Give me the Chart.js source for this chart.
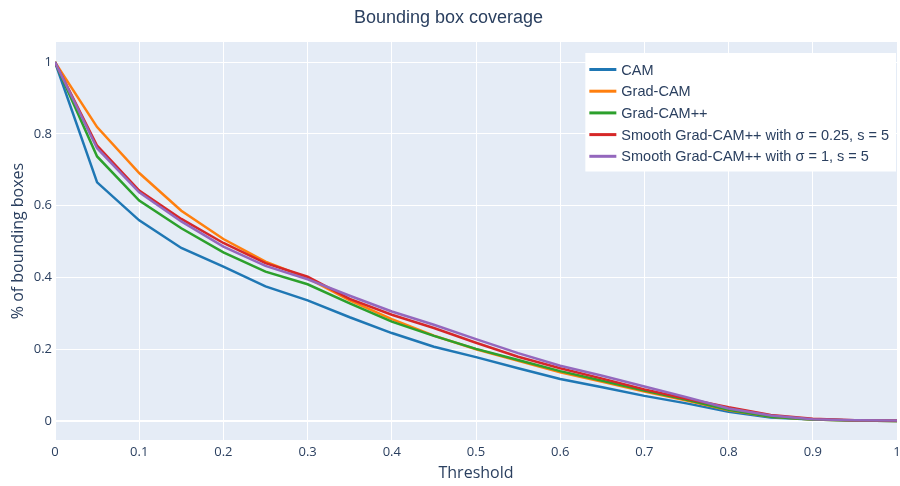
<!DOCTYPE html>
<html>
<head>
<meta charset="utf-8">
<script src="https://cdn.jsdelivr.net/npm/chart.js@4/dist/chart.umd.min.js"></script>
<style>
  html, body { margin: 0; padding: 0; background: #fff; }
  #wrap { width: 900px; height: 486px; }
</style>
</head>
<body>
<div id="wrap"><canvas id="coverageChart"></canvas></div>
<script>
// Thresholds on the x axis
const thresholds = [0, 0.05, 0.1, 0.15, 0.2, 0.25, 0.3, 0.35, 0.4, 0.45, 0.5,
  0.55, 0.6, 0.65, 0.7, 0.75, 0.8, 0.85, 0.9, 0.95, 1];

// Share of bounding boxes covered, one array per method
const cam = [1, 0.665, 0.559, 0.482, 0.430, 0.375, 0.336, 0.289, 0.245, 0.207, 0.178,
  0.147, 0.117, 0.094, 0.070, 0.049, 0.026, 0.010, 0.004, 0.001, 0];
const gradCam = [1, 0.819, 0.691, 0.586, 0.507, 0.444, 0.398, 0.336, 0.284, 0.238, 0.200,
  0.168, 0.136, 0.109, 0.082, 0.057, 0.030, 0.012, 0.004, 0.001, 0];
const gradCamPP = [1, 0.737, 0.614, 0.537, 0.470, 0.416, 0.381, 0.328, 0.277, 0.237, 0.201,
  0.170, 0.139, 0.112, 0.085, 0.059, 0.031, 0.012, 0.004, 0.001, 0];
const smooth025 = [1, 0.767, 0.642, 0.563, 0.496, 0.440, 0.402, 0.340, 0.296, 0.259, 0.218,
  0.179, 0.147, 0.118, 0.088, 0.062, 0.038, 0.017, 0.006, 0.002, 0.001];
const smooth1 = [1, 0.760, 0.637, 0.556, 0.486, 0.432, 0.395, 0.349, 0.305, 0.268, 0.228,
  0.189, 0.154, 0.126, 0.096, 0.066, 0.035, 0.015, 0.005, 0.002, 0.001];

const seriesNames = ['CAM', 'Grad-CAM', 'Grad-CAM++',
  'Smooth Grad-CAM++ with σ = 0.25, s = 5', 'Smooth Grad-CAM++ with σ = 1, s = 5'];
const seriesValues = [cam, gradCam, gradCamPP, smooth025, smooth1];
const seriesColors = ['#1f77b4', '#ff7f0e', '#2ca02c', '#d62728', '#9467bd'];

// Tick labels
const xTicks = [0, 0.1, 0.2, 0.3, 0.4, 0.5, 0.6, 0.7, 0.8, 0.9, 1];
const yTicks = [0, 0.2, 0.4, 0.6, 0.8, 1];

const textColor = '#2a3f5f';
const tickFont = { family: '"Open Sans", sans-serif', size: 13 };

// light blue plot background like plotly
const plotBackground = {
  id: 'plotBackground',
  beforeDraw(chart) {
    const { ctx, chartArea } = chart;
    ctx.save();
    ctx.fillStyle = '#e5ecf6';
    ctx.fillRect(chartArea.left, chartArea.top, chartArea.width, chartArea.height);
    ctx.restore();
  }
};

// legend box in the top right corner of the plot
const legendBox = {
  id: 'legendBox',
  afterDraw(chart) {
    const { ctx, chartArea } = chart;
    const datasets = chart.data.datasets;
    ctx.save();
    ctx.font = '14.5px "Liberation Sans", Arial, sans-serif';
    let textW = 0;
    datasets.forEach(ds => {
      textW = Math.max(textW, ctx.measureText(ds.label).width);
    });
    const rowH = 21.7;
    const boxW = textW + 43;
    const boxH = rowH * datasets.length + 10;
    const x0 = chartArea.right - 1 - boxW;
    const y0 = chartArea.top + 11;
    ctx.fillStyle = '#ffffff';
    ctx.fillRect(x0, y0, boxW, boxH);
    ctx.textBaseline = 'middle';
    datasets.forEach((ds, i) => {
      const y = y0 + 16.5 + i * rowH;
      ctx.strokeStyle = ds.borderColor;
      ctx.lineWidth = 3;
      ctx.beginPath();
      ctx.moveTo(x0 + 4, y);
      ctx.lineTo(x0 + 31, y);
      ctx.stroke();
      ctx.fillStyle = textColor;
      ctx.fillText(ds.label, x0 + 36, y + 1);
    });
    ctx.restore();
  }
};

const datasets = seriesNames.map((name, i) => ({
  label: name,
  data: thresholds.map((t, j) => ({ x: t, y: seriesValues[i][j] })),
  borderColor: seriesColors[i],
  backgroundColor: seriesColors[i],
  borderWidth: 2.5,
  pointRadius: 0,
  tension: 0,
  fill: false,
  order: seriesNames.length - i
}));

const coverageChart = new Chart(document.getElementById('coverageChart'), {
  type: 'line',
  data: { datasets: datasets },
  options: {
    responsive: true,
    maintainAspectRatio: false,
    animation: false,
    layout: { padding: { left: 0, right: 3, top: 0, bottom: 0 } },
    plugins: {
      legend: { display: false },
      tooltip: { enabled: false },
      title: {
        display: true,
        text: 'Bounding box coverage',
        color: textColor,
        font: { family: '"Liberation Sans", Arial, sans-serif', size: 18, weight: 'normal' },
        padding: { top: 7, bottom: 13.4 }
      }
    },
    scales: {
      x: {
        type: 'linear',
        min: 0,
        max: 1,
        afterBuildTicks: scale => { scale.ticks = xTicks.map(v => ({ value: v })); },
        afterFit: scale => {
          scale.height = 46;
          scale.paddingLeft = 0;
          scale.paddingRight = 0;
        },
        ticks: { color: textColor, font: tickFont, padding: 4, maxRotation: 0, callback: v => String(v) },
        grid: { color: '#ffffff', lineWidth: 1, drawTicks: false },
        border: { display: false },
        title: {
          display: true,
          text: 'Threshold',
          color: textColor,
          font: { family: '"Open Sans", sans-serif', size: 16 },
          padding: { top: 0, bottom: 3.4 }
        }
      },
      y: {
        type: 'linear',
        min: -0.053,
        max: 1.056,
        afterBuildTicks: scale => { scale.ticks = yTicks.map(v => ({ value: v })); },
        afterFit: scale => {
          scale.width = 55;
          scale.paddingTop = 0;
          scale.paddingBottom = 0;
        },
        ticks: { color: textColor, font: tickFont, padding: 3, callback: v => String(v) },
        grid: {
          color: '#ffffff',
          lineWidth: ctx => (ctx.tick && ctx.tick.value === 0 ? 2 : 1),
          drawTicks: false
        },
        border: { display: false },
        title: {
          display: true,
          text: '% of bounding boxes',
          color: textColor,
          font: { family: '"Open Sans", sans-serif', size: 16 },
          padding: { top: 8.4, bottom: 0 }
        }
      }
    }
  },
  plugins: [plotBackground, legendBox]
});
</script>
</body>
</html>
